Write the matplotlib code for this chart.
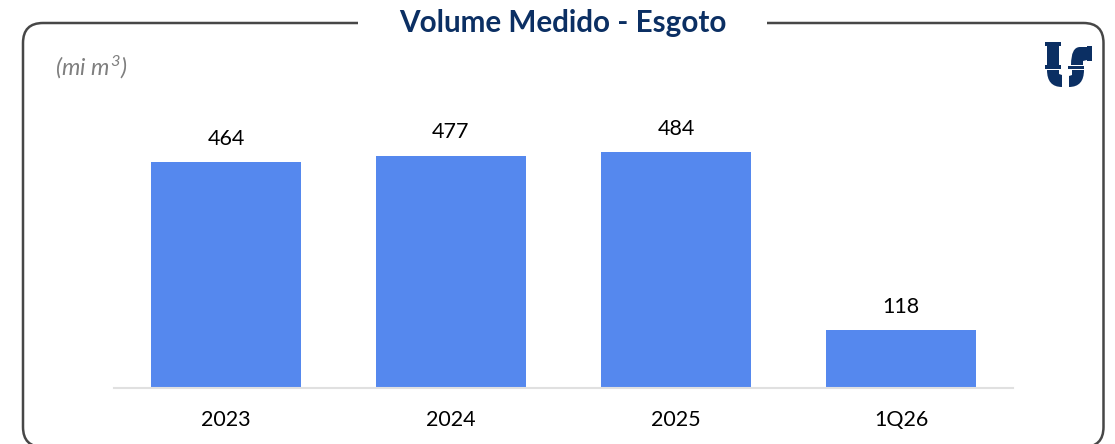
#!/usr/bin/env python3
import matplotlib
matplotlib.use("Agg")
import matplotlib.pyplot as plt
from matplotlib.patches import FancyBboxPatch, PathPatch, Rectangle
from matplotlib.path import Path

categories = ["2023", "2024", "2025", "1Q26"]
volumes = [464, 477, 484, 118]

W, H = 1115, 444
NAVY = "#0B2F63"
plt.rcParams["font.family"] = ["Lato", "DejaVu Sans"]
plt.rcParams["mathtext.fontset"] = "custom"
plt.rcParams["mathtext.it"] = "Lato:italic"
plt.rcParams["mathtext.rm"] = "Lato:italic"

fig = plt.figure(figsize=(W / 100, H / 100), dpi=100)

# overlay in pixel coords for the frame, title and logo
ov = fig.add_axes([0, 0, 1, 1], zorder=0)
ov.set_xlim(0, W)
ov.set_ylim(H, 0)
ov.axis("off")
ov.add_patch(FancyBboxPatch((23, 23), 1080.5, 424, boxstyle="round,pad=0,rounding_size=20",
                            fc="white", ec="#474747", lw=1.8, clip_on=False))
ov.add_patch(Rectangle((358, 15), 409, 16, fc="white", ec="none"))
ov.text(563, 23, "Volume Medido - Esgoto", color=NAVY, fontsize=21.3, fontweight="bold",
        ha="center", va="center")
ov.text(55, 67, r"$\mathit{(mi\ m^3)}$", color="#7F7F7F", fontsize=16.8, va="center")

# logo
M, L, C = Path.MOVETO, Path.LINETO, Path.CURVE3
logo = [
    ([(1045, 42), (1061, 42), (1061, 46), (1059, 46), (1059, 65), (1061, 65), (1061, 69),
      (1045, 69), (1045, 65), (1047, 65), (1047, 46), (1045, 46), (1045, 42)],
     [M, L, L, L, L, L, L, L, L, L, L, L, L]),
    ([(1047, 70), (1059, 70), (1059, 74), (1062, 75), (1062, 87), (1047, 87), (1047, 70)],
     [M, L, L, L, L, C, C]),
    ([(1069, 76), (1072, 75), (1072, 70), (1084, 70), (1084, 87), (1069, 87), (1069, 76)],
     [M, L, L, L, C, C, L]),
    ([(1071, 65), (1083, 65), (1083, 61), (1087, 60), (1087, 61), (1092, 61),
      (1092, 46), (1087, 46), (1087, 47), (1080, 47), (1071, 47), (1071, 65)],
     [M, L, L, L, L, L, L, L, L, L, C, C]),
    ([(1068, 66), (1084, 66), (1084, 69), (1068, 69), (1068, 66)], [M, L, L, L, L]),
]
for verts, codes in logo:
    ov.add_patch(PathPatch(Path(verts, codes), fc=NAVY, ec="none"))

# chart, 0.487 px per m3
ax = fig.add_axes([113.5 / W, (H - 388) / H, 900 / W, 288 / H], zorder=1)
ax.patch.set_alpha(0)
x = range(len(categories))
bars = ax.bar(x, volumes, width=0.665, color="#5588EE")
ax.bar_label(bars, padding=9.5, fontsize=15.5, color="black")
ax.set_xlim(-0.5, 3.5)
ax.set_ylim(0, 591)
ax.set_xticks(list(x), categories, fontsize=15.5, color="black")
ax.tick_params(axis="x", length=0, pad=16)
ax.set_yticks([])
for s in ["top", "left", "right"]:
    ax.spines[s].set_visible(False)
ax.spines["bottom"].set_color("#E0E0E0")
ax.spines["bottom"].set_linewidth(1.5)

fig.savefig("out.png", dpi=100)
